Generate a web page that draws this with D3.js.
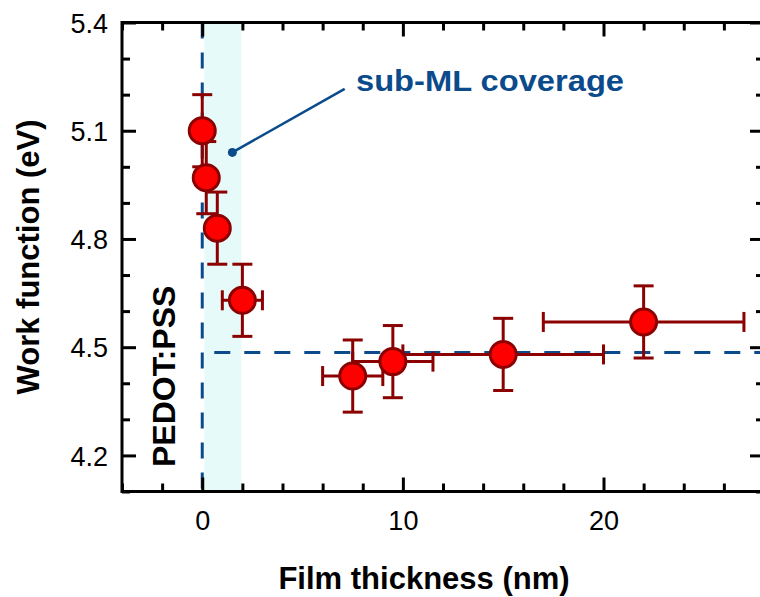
<!DOCTYPE html>
<html>
<head>
<meta charset="utf-8">
<script src="https://cdn.jsdelivr.net/npm/d3@7/dist/d3.min.js"></script>
<style>
  html, body { margin: 0; padding: 0; background: #ffffff; }
  svg { display: block; }
  text { font-family: "Liberation Sans", Arial, sans-serif; }
</style>
</head>
<body>
<svg id="chart" width="760" height="597"></svg>
<script>
// Work function vs. film thickness
const thickness      = [0, 0.2, 0.75, 2, 7.5, 9.5, 15, 22];      // nm
const thicknessError = [0, 0, 0, 1, 1.5, 2, 5, 5];                // nm
const workFunction   = [5.10, 4.97, 4.83, 4.63, 4.42, 4.46, 4.48, 4.57]; // eV
const workFunctionError = [0.1, 0.1, 0.1, 0.1, 0.1, 0.1, 0.1, 0.1];     // eV

const xMajorTicks = [0, 10, 20];
const xMinorTicks = [-4, -2, 2, 4, 6, 8, 12, 14, 16, 18, 22, 24, 26, 28];
const yMajorTicks = [4.2, 4.5, 4.8, 5.1, 5.4];
const yMinorTicks = [4.1, 4.3, 4.4, 4.6, 4.7, 4.9, 5.0, 5.2, 5.3];

const substrateLevel = 4.485;          // PEDOT:PSS reference work function
const subMonolayerBand = [0.1, 1.95];  // thickness range below one monolayer
const annotationDot = [1.5, 5.04];
const annotationEnd = [7.1, 5.216];
const annotationText = "sub-ML coverage";

const svg = d3.select("#chart");
const plotLeft = 122, plotRight = 764, plotTop = 22.5, plotBottom = 491.5;

const x = d3.scaleLinear().domain([-4, 28]).range([plotLeft, plotRight]);
const y = d3.scaleLinear().domain([4.1, 5.4]).range([plotBottom, plotTop]);

const blue = "#0b4a8b";
const darkRed = "#8b0000";

// shaded sub-monolayer region
svg.append("rect")
  .attr("x", x(subMonolayerBand[0]))
  .attr("y", plotTop)
  .attr("width", x(subMonolayerBand[1]) - x(subMonolayerBand[0]))
  .attr("height", plotBottom - plotTop)
  .attr("fill", "#e6fafa");

// reference dashed lines
svg.append("line")
  .attr("x1", x(0)).attr("x2", x(0))
  .attr("y1", plotTop).attr("y2", plotBottom)
  .attr("stroke", blue).attr("stroke-width", 3)
  .attr("stroke-dasharray", "16,14");
svg.append("line")
  .attr("x1", x(0.6)).attr("x2", plotRight)
  .attr("y1", y(substrateLevel)).attr("y2", y(substrateLevel))
  .attr("stroke", blue).attr("stroke-width", 3)
  .attr("stroke-dasharray", "16,14");

// axes: ticks point into the frame
function addAxis(axisFn, scale, ticks, size, transform, labels) {
  const g = svg.append("g")
    .attr("transform", transform)
    .call(axisFn(scale).tickValues(ticks).tickSizeInner(size).tickSizeOuter(0)
      .tickFormat(labels ? d3.format(labels) : ""));
  g.select(".domain").remove();
  g.selectAll(".tick line").attr("stroke", "#000").attr("stroke-width", 3);
  return g;
}

// bottom
const xb = addAxis(d3.axisBottom, x, xMajorTicks, -14, `translate(0,${plotBottom})`, "d");
xb.selectAll(".tick text").attr("y", 38).attr("dy", 0)
  .attr("font-size", 27).attr("fill", "#000");
addAxis(d3.axisBottom, x, xMinorTicks, -8, `translate(0,${plotBottom})`, null);
// top
addAxis(d3.axisTop, x, xMajorTicks, -14, `translate(0,${plotTop})`, null);
addAxis(d3.axisTop, x, xMinorTicks, -8, `translate(0,${plotTop})`, null);
// left
const yl = addAxis(d3.axisLeft, y, yMajorTicks, -14, `translate(${plotLeft},0)`, ".1f");
yl.selectAll(".tick text").attr("x", -14).attr("dy", "0.36em")
  .attr("font-size", 27).attr("fill", "#000").attr("text-anchor", "end");
addAxis(d3.axisLeft, y, yMinorTicks, -8, `translate(${plotLeft},0)`, null);
// right
addAxis(d3.axisRight, y, yMajorTicks, -14, `translate(${plotRight},0)`, null);
addAxis(d3.axisRight, y, yMinorTicks, -8, `translate(${plotRight},0)`, null);

// frame
svg.append("rect")
  .attr("x", plotLeft).attr("y", plotTop)
  .attr("width", plotRight - plotLeft).attr("height", plotBottom - plotTop)
  .attr("fill", "none").attr("stroke", "#000").attr("stroke-width", 3);

// annotation
svg.append("line")
  .attr("x1", x(annotationDot[0])).attr("y1", y(annotationDot[1]))
  .attr("x2", x(annotationEnd[0])).attr("y2", y(annotationEnd[1]))
  .attr("stroke", blue).attr("stroke-width", 2.5);
svg.append("circle")
  .attr("cx", x(annotationDot[0])).attr("cy", y(annotationDot[1]))
  .attr("r", 4.5).attr("fill", blue);
svg.append("text")
  .attr("x", 356).attr("y", 91)
  .attr("font-size", 29).attr("font-weight", "bold").attr("fill", blue)
  .attr("textLength", 268).attr("lengthAdjust", "spacingAndGlyphs")
  .text(annotationText);

// PEDOT:PSS label
svg.append("text")
  .attr("transform", "translate(175,467) rotate(-90)")
  .attr("font-size", 32).attr("font-weight", "bold").attr("fill", "#000")
  .text("PEDOT:PSS");

// axis titles
svg.append("text")
  .attr("transform", "translate(39,257) rotate(-90)")
  .attr("text-anchor", "middle")
  .attr("font-size", 31).attr("font-weight", "bold").attr("fill", "#000")
  .text("Work function (eV)");
svg.append("text")
  .attr("x", 424).attr("y", 589)
  .attr("text-anchor", "middle")
  .attr("font-size", 31).attr("font-weight", "bold").attr("fill", "#000")
  .text("Film thickness (nm)");

// data with error bars
const points = thickness.map((t, i) => ({
  t, dt: thicknessError[i], w: workFunction[i], dw: workFunctionError[i]
}));

const capHalf = 10;
const err = svg.append("g").attr("stroke", darkRed).attr("stroke-width", 3).attr("fill", "none");
points.forEach(p => {
  // vertical bar + caps
  err.append("line").attr("x1", x(p.t)).attr("x2", x(p.t))
    .attr("y1", y(p.w - p.dw)).attr("y2", y(p.w + p.dw));
  [p.w - p.dw, p.w + p.dw].forEach(v => {
    err.append("line").attr("x1", x(p.t) - capHalf).attr("x2", x(p.t) + capHalf)
      .attr("y1", y(v)).attr("y2", y(v));
  });
  if (p.dt > 0) {
    err.append("line").attr("x1", x(p.t - p.dt)).attr("x2", x(p.t + p.dt))
      .attr("y1", y(p.w)).attr("y2", y(p.w));
    [p.t - p.dt, p.t + p.dt].forEach(v => {
      err.append("line").attr("x1", x(v)).attr("x2", x(v))
        .attr("y1", y(p.w) - capHalf).attr("y2", y(p.w) + capHalf);
    });
  }
});

svg.append("g").selectAll("circle").data(points).join("circle")
  .attr("cx", d => x(d.t)).attr("cy", d => y(d.w))
  .attr("r", 13)
  .attr("fill", "#ff0000").attr("stroke", darkRed).attr("stroke-width", 3);
</script>
</body>
</html>
